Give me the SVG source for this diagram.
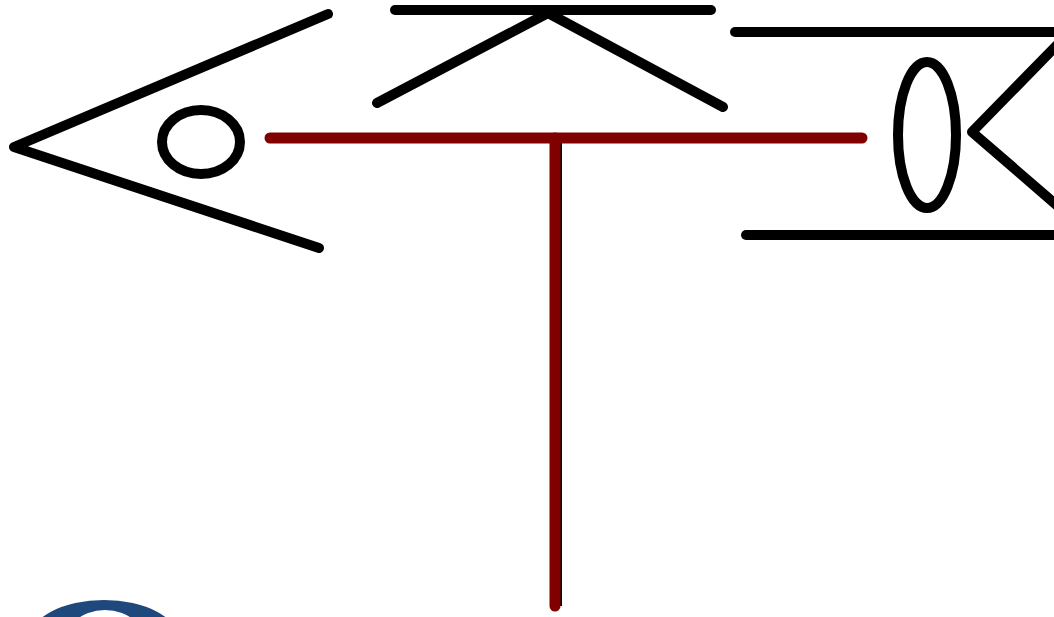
<svg xmlns="http://www.w3.org/2000/svg" width="1054" height="617" viewBox="0 0 1054 617">
<style>
.k{stroke:#000;stroke-width:10;fill:none;stroke-linecap:round;stroke-linejoin:round}
.r{stroke:#800000;stroke-width:11;fill:none;stroke-linecap:round}
</style>
<rect width="1054" height="617" fill="#fff"/>
<g id="left-end">
<polyline class="k" points="328,14 14,147 319,248"/>
<ellipse class="k" cx="201" cy="142" rx="39" ry="32"/>
</g>
<g id="top-end">
<line class="k" x1="395" y1="10" x2="711" y2="10"/>
<polyline class="k" points="377,103 548,13 723,107"/>
</g>
<g id="right-end">
<line class="k" x1="735" y1="32" x2="1060" y2="32"/>
<line class="k" x1="746" y1="235" x2="1060" y2="235"/>
<ellipse class="k" cx="927" cy="135" rx="29" ry="73"/>
<polyline class="k" points="1060,42 972,132 1060,208"/>
</g>
<g id="connectors">
<line x1="556.5" y1="142" x2="556.5" y2="606" stroke="#000" stroke-width="11"/>
<line class="r" x1="270" y1="138" x2="862" y2="138"/>
<line class="r" x1="555" y1="138" x2="555" y2="606" stroke-linecap="butt"/>
</g>
<g id="bottom-shape">
<path fill="#1f497d" fill-rule="evenodd" d="M29,640 a75,40 0 1,0 150,0 a75,40 0 1,0 -150,0 Z M61,650 a44,40 0 1,0 88,0 a44,40 0 1,0 -88,0 Z"/>
</g>
</svg>
